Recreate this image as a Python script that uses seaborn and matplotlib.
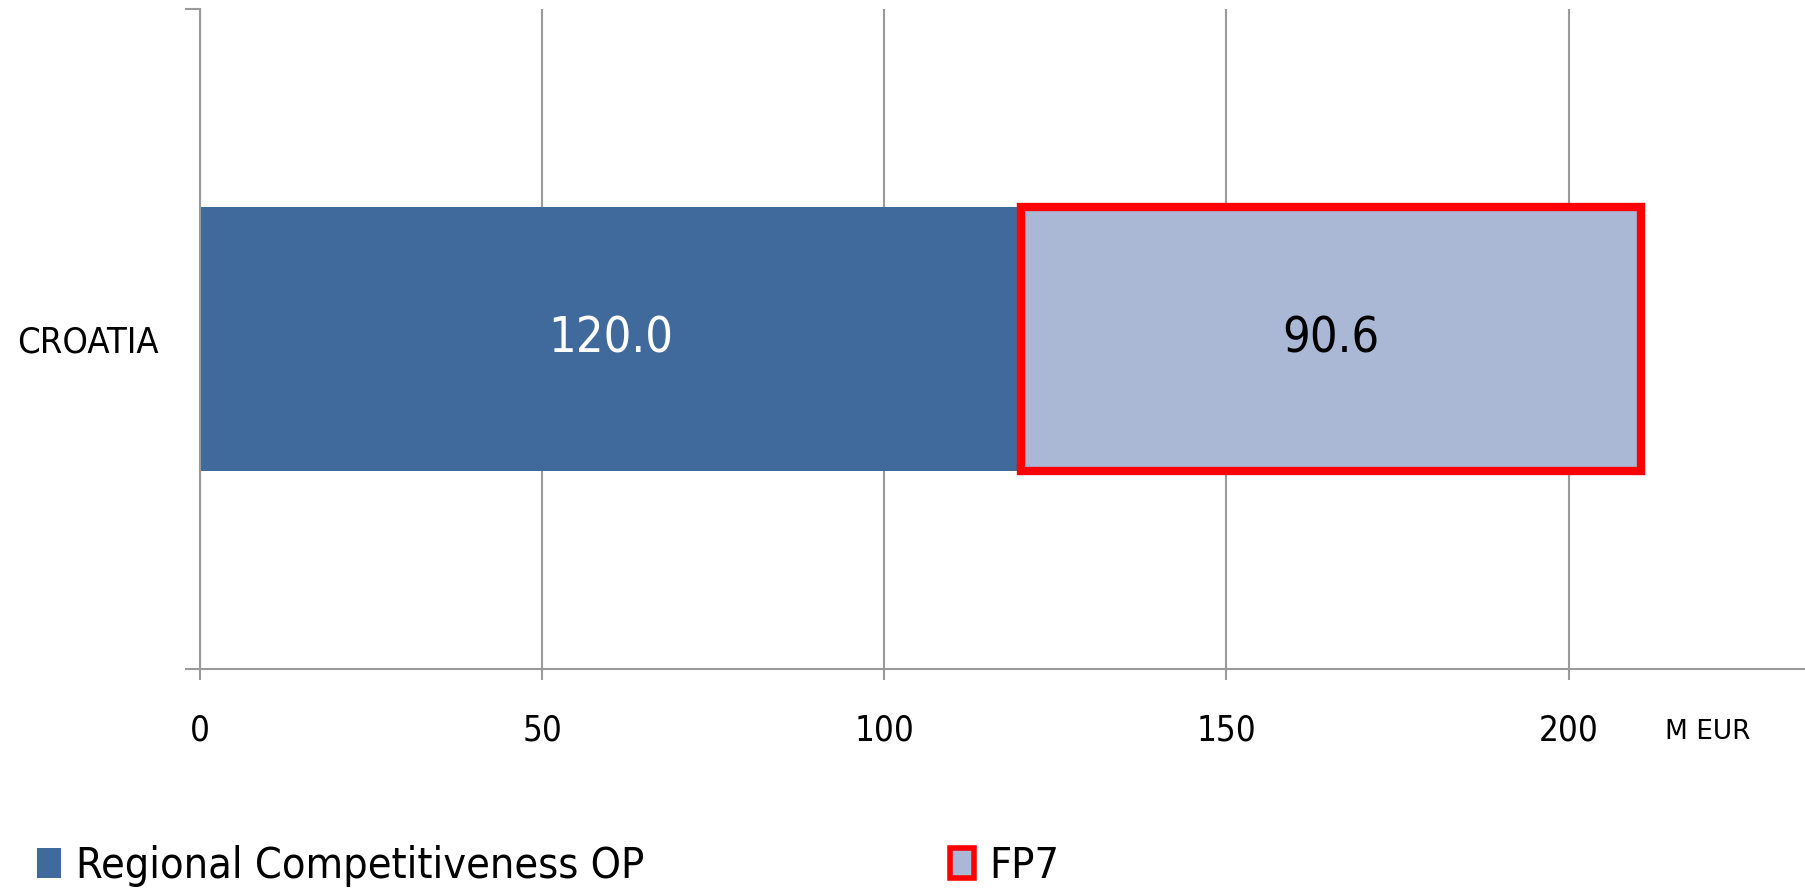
import matplotlib
matplotlib.use("Agg")
import matplotlib.pyplot as plt
import matplotlib.patches as mpatches
import seaborn as sns
import pandas as pd

# chart data
countries = ["CROATIA"]
regional_op = [120.0]
fp7 = [90.6]
series_names = ["Regional Competitiveness OP", "FP7"]
x_ticks = [0, 50, 100, 150, 200]

sns.set_style("white")
plt.rcParams['font.family'] = ['DejaVu Sans']
plt.rcParams['font.stretch'] = 'condensed'
plt.rcParams['text.color'] = 'black'
plt.rcParams['xtick.color'] = 'black'
plt.rcParams['ytick.color'] = 'black'

blue = "#406A9B"
light = "#AAB8D6"
red = "#FF0000"
grid_grey = "#9A9A9A"

df = pd.DataFrame({"Country": countries, "OP": regional_op, "FP7": fp7})

fig = plt.figure(figsize=(18.06, 8.89), dpi=100)
ax = fig.add_axes([0.1107, 0.2475, 1 - 0.1107, 0.99 - 0.2475])

sns.barplot(data=df, x="OP", y="Country", orient="h", color=blue,
            width=0.4, saturation=1, linewidth=0, ax=ax)
sns.barplot(data=df, x="FP7", y="Country", orient="h", color=light,
            width=0.4, saturation=1, left=df["OP"].values,
            edgecolor=red, linewidth=6, ax=ax)

# value labels
ax.bar_label(ax.containers[0], labels=[f"{v:.1f}" for v in regional_op],
             label_type="center", color="white", fontsize=35)
ax.bar_label(ax.containers[1], labels=[f"{v:.1f}" for v in fp7],
             label_type="center", color="black", fontsize=35)

ax.set_xlim(0, 234.7)
ax.set_ylim(0.5, -0.5)
ax.set_xticks(x_ticks)
ax.set_xticklabels([str(t) for t in x_ticks])
ax.set_xlabel("")
ax.set_ylabel("")

ax.grid(axis="x", color=grid_grey, linewidth=1.5)
ax.grid(axis="y", visible=False)
ax.set_axisbelow(True)
for side in ["top", "right"]:
    ax.spines[side].set_visible(False)
for side in ["left", "bottom"]:
    ax.spines[side].set_color(grid_grey)
    ax.spines[side].set_linewidth(1.5)

ax.tick_params(axis="x", direction="out", length=8, width=1.5, color=grid_grey,
               labelsize=25, pad=24, bottom=True)
ax.tick_params(axis="y", which="major", length=0, labelsize=26, pad=30)
ax.set_yticks([-0.5, 0.5], minor=True)
ax.tick_params(axis="y", which="minor", direction="out", length=11, width=1.5,
               color=grid_grey, left=True)

fig.text(0.9455, 0.177, "M EUR", ha="center", va="center", fontsize=19,
         family="DejaVu Sans", stretch="normal")

h_op = mpatches.Patch(facecolor=blue, edgecolor=blue, linewidth=0)
h_fp7 = mpatches.Patch(facecolor=light, edgecolor=red, linewidth=4)
fig.legend([h_op], [series_names[0]], loc="center left",
           bbox_to_anchor=(0.0205, 0.026), frameon=False, fontsize=31,
           handlelength=0.56, handleheight=0.68, handletextpad=0.35,
           borderpad=0, borderaxespad=0)
fig.legend([h_fp7], [series_names[1]], loc="center left",
           bbox_to_anchor=(0.526, 0.026), frameon=False, fontsize=31,
           handlelength=0.56, handleheight=0.68, handletextpad=0.35,
           borderpad=0, borderaxespad=0)

fig.savefig("out.png", dpi=100)
